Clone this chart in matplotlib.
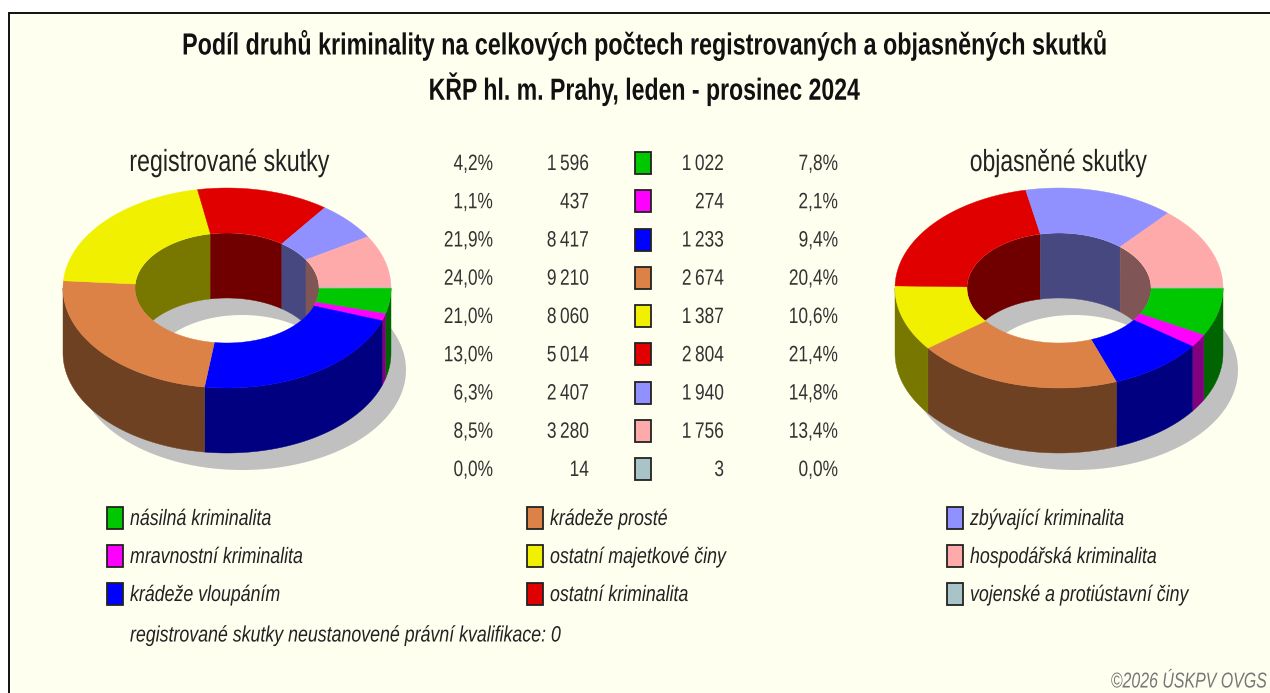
import numpy as np
import matplotlib
matplotlib.use('Agg')
import matplotlib.pyplot as plt
from matplotlib.patches import Polygon, Rectangle, Ellipse, PathPatch
from matplotlib.path import Path
from matplotlib.patheffects import AbstractPathEffect
from matplotlib.transforms import Affine2D

plt.rcParams['font.family'] = ['Liberation Sans', 'DejaVu Sans']

categories = ['násilná kriminalita', 'mravnostní kriminalita', 'krádeže vloupáním',
              'krádeže prosté', 'ostatní majetkové činy', 'ostatní kriminalita',
              'zbývající kriminalita', 'hospodářská kriminalita', 'vojenské a protiústavní činy']
registered = [1596, 437, 8417, 9210, 8060, 5014, 2407, 3280, 14]
solved = [1022, 274, 1233, 2674, 1387, 2804, 1940, 1756, 3]
registered_pct = ['4,2%', '1,1%', '21,9%', '24,0%', '21,0%', '13,0%', '6,3%', '8,5%', '0,0%']
solved_pct = ['7,8%', '2,1%', '9,4%', '20,4%', '10,6%', '21,4%', '14,8%', '13,4%', '0,0%']
colors = ['#00C800', '#FF00FF', '#0000FF', '#DC8246', '#F0F000', '#E00000', '#9090FF', '#FFAAAA', '#A8C4C8']

BG = '#FFFFF0'
SHADOW = '#C0C0C0'
RX, RY = 164, 100
IRX, IRY = 92, 55
DEPTH = 65
CY = 288


class Squeeze(AbstractPathEffect):
    # no narrow font installed, so the text is squeezed sideways around its anchor
    def __init__(self, x0, sx):
        super().__init__()
        self.x0 = x0
        self.sx = sx

    def draw_path(self, renderer, gc, tpath, affine, rgbFace=None):
        squeeze = Affine2D().translate(-self.x0, 0).scale(self.sx, 1).translate(self.x0, 0)
        renderer.draw_path(gc, tpath, affine + squeeze, rgbFace)


def label(ax, x, y, s, sx=0.78, **kw):
    t = ax.text(x, y, s, va='center', **kw)
    t.set_path_effects([Squeeze(x, sx)])
    return t


def fmt(v):
    # space as thousands separator, like the table in the source
    return f'{v:,}'.replace(',', '\u2009')


def ell(cx, cy, rx, ry, t):
    return np.column_stack([cx + rx * np.cos(t), cy + ry * np.sin(t)])


def arc(a, b):
    return np.linspace(a, b, max(int(abs(b - a) * 60), 2))


def donut(ax, cx, values):
    v = np.array(values, dtype=float)
    edges = np.concatenate([[0], np.cumsum(v) / v.sum() * 2 * np.pi])

    # shadow ring
    t = np.linspace(0, 2 * np.pi, 200)
    outer = ell(cx + 15, CY + 82, RX, RY, t)
    inner = ell(cx + 15, CY + 82, IRX, IRY, t)[::-1]
    verts = np.vstack([outer, inner])
    codes = [Path.MOVETO] + [Path.LINETO] * 199 + [Path.MOVETO] + [Path.LINETO] * 199
    ax.add_patch(PathPatch(Path(verts, codes), fc=SHADOW, ec='none', zorder=1))

    hole = Ellipse((cx, CY), 2 * IRX, 2 * IRY, transform=ax.transData, fc='none', ec='none')
    ax.add_patch(hole)

    for i, c in enumerate(colors):
        a, b = edges[i], edges[i + 1]
        dark = np.array(matplotlib.colors.to_rgb(c)) * 0.5

        # inner wall, far side of the hole only
        lo, hi = max(a, np.pi), min(b, 2 * np.pi)
        if hi > lo:
            p = ell(cx, CY, IRX, IRY, arc(lo, hi))
            wall = np.vstack([p, p[::-1] + [0, DEPTH]])
            pg = Polygon(wall, fc=dark, ec=dark, lw=0.3, zorder=2)
            ax.add_patch(pg)
            pg.set_clip_path(hole)

        # outer wall, near side only
        lo, hi = max(a, 0), min(b, np.pi)
        if hi > lo:
            p = ell(cx, CY, RX, RY, arc(lo, hi))
            wall = np.vstack([p, p[::-1] + [0, DEPTH]])
            ax.add_patch(Polygon(wall, fc=dark, ec=dark, lw=0.3, zorder=3))

    for i, c in enumerate(colors):
        t = arc(edges[i], edges[i + 1])
        top = np.vstack([ell(cx, CY, RX, RY, t), ell(cx, CY, IRX, IRY, t)[::-1]])
        ax.add_patch(Polygon(top, fc=c, ec=c, lw=0.3, zorder=4))


fig = plt.figure(figsize=(12.7, 6.93), dpi=100, facecolor='white')
ax = fig.add_axes([0, 0, 1, 1])
ax.set_xlim(0, 1270)
ax.set_ylim(693, 0)
ax.axis('off')

ax.add_patch(Rectangle((9, 13), 1300, 720, fc=BG, ec='#101010', lw=1.4, zorder=0))

label(ax, 644, 45, 'Podíl druhů kriminality na celkových počtech registrovaných a objasněných skutků',
      sx=0.763, fontsize=22, fontweight='bold', ha='center', color='#111111')
label(ax, 644, 89, 'KŘP hl. m. Prahy, leden - prosinec 2024',
      sx=0.755, fontsize=22, fontweight='bold', ha='center', color='#111111')
label(ax, 229, 163, 'registrované skutky', sx=0.76, fontsize=22, ha='center', color='#222222')
label(ax, 1058, 163, 'objasněné skutky', sx=0.75, fontsize=22, ha='center', color='#222222')

donut(ax, 227, registered)
donut(ax, 1059, solved)

for i, c in enumerate(colors):
    y = 163 + i * 38.25
    label(ax, 493, y + 1.5, registered_pct[i], fontsize=16, ha='right', color='#333333')
    label(ax, 589, y + 1.5, fmt(registered[i]), fontsize=16, ha='right', color='#333333')
    ax.add_patch(Rectangle((635, y - 11), 16, 22, fc=c, ec='#222222', lw=1.3, zorder=5))
    label(ax, 724, y + 1.5, fmt(solved[i]), fontsize=16, ha='right', color='#333333')
    label(ax, 838, y + 1.5, solved_pct[i], fontsize=16, ha='right', color='#333333')

legend_x = [107, 527, 947]
for i, name in enumerate(categories):
    col, row = i // 3, i % 3
    y = 518 + row * 38
    ax.add_patch(Rectangle((legend_x[col], y - 11), 15.5, 22, fc=colors[i], ec='#222222', lw=1.3, zorder=5))
    label(ax, legend_x[col] + 23, y + 1.5, name, sx=0.8, fontsize=16, style='italic', ha='left', color='#222222')

label(ax, 130, 636, 'registrované skutky neustanovené právní kvalifikace: 0',
      sx=0.8, fontsize=16, style='italic', ha='left', color='#222222')
label(ax, 1267, 682, '©2026 ÚSKPV OVGS', sx=0.74, fontsize=15.5, style='italic', ha='right', color='#777777')

fig.savefig('out.png', dpi=100)
